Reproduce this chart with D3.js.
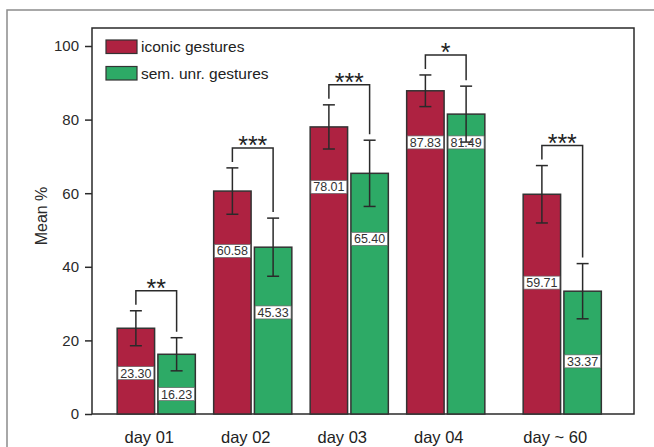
<!DOCTYPE html>
<html>
<head>
<meta charset="utf-8">
<script src="https://cdn.jsdelivr.net/npm/d3@7"></script>
<style>
    body { margin: 0; background: #fff; }
    svg { display: block; font-family: "Liberation Sans", Arial, sans-serif; }
</style>
</head>
<body>
<div id="chart"></div>
<script>
var days = ["day 01", "day 02", "day 03", "day 04", "day ~ 60"];
var seriesKeys = ["iconic", "sem"];
var seriesNames = ["iconic gestures", "sem. unr. gestures"];
var iconicMeans = [23.30, 60.58, 78.01, 87.83, 59.71];
var semMeans = [16.23, 45.33, 65.40, 81.49, 33.37];
var iconicErr = [4.75, 6.3, 6.0, 4.3, 7.8];
var semErr = [4.5, 7.9, 9.0, 7.6, 7.5];
var sigMarks = ["**", "***", "***", "*", "***"];
var yTicks = [0, 20, 40, 60, 80, 100];

// where the value boxes sit on each bar (in % units)
var iconicLabelAt = [11.1, 44.3, 61.7, 73.8, 35.7];
var semLabelAt = [5.4, 27.6, 47.6, 73.8, 14.3];

var colors = { iconic: "#ae2241", sem: "#2daa66" };

var rows = days.map(function (d, i) {
    return {
        day: d,
        sig: sigMarks[i],
        values: [
            { key: "iconic", mean: iconicMeans[i], err: iconicErr[i], labelAt: iconicLabelAt[i] },
            { key: "sem", mean: semMeans[i], err: semErr[i], labelAt: semLabelAt[i] }
        ]
    };
});

var width = 654, height = 447;
var plot = { left: 92, top: 28, right: 634, bottom: 414 };

var svg = d3.select("#chart").append("svg")
    .attr("width", width)
    .attr("height", height);

// outer frame
svg.append("rect")
    .attr("x", 7).attr("y", 10)
    .attr("width", 680).attr("height", 480)
    .attr("fill", "none")
    .attr("stroke", "#8c8c8c")
    .attr("stroke-width", 1.5);

var y = d3.scaleLinear()
    .domain([0, 100])
    .range([plot.bottom, 46]);

var x0 = d3.scaleBand()
    .domain(days)
    .range([108, 590.5])
    .paddingInner(0.19)
    .paddingOuter(0.095);

var lateGap = 20;
function groupX(d) {
    return x0(d) + (d === days[days.length - 1] ? lateGap : 0);
}

var x1 = d3.scaleBand()
    .domain(seriesKeys)
    .range([0, x0.bandwidth()])
    .paddingInner(0.081);

// plot box
svg.append("rect")
    .attr("x", plot.left).attr("y", plot.top)
    .attr("width", plot.right - plot.left)
    .attr("height", plot.bottom - plot.top)
    .attr("fill", "#fff")
    .attr("stroke", "#2a2a2a")
    .attr("stroke-width", 1.5);

var yAxis = d3.axisLeft(y)
    .tickValues(yTicks)
    .tickSize(7)
    .tickSizeOuter(0)
    .tickPadding(6);

var yG = svg.append("g")
    .attr("transform", "translate(" + plot.left + ",0)")
    .call(yAxis);
yG.select(".domain").remove();
yG.selectAll(".tick line").attr("stroke", "#2a2a2a").attr("stroke-width", 1.5);
yG.selectAll(".tick text")
    .attr("fill", "#2a2a2a")
    .style("font-size", "15px")
    .style("font-family", "'Liberation Sans', Arial, sans-serif");

svg.append("text")
    .attr("transform", "translate(41,216) rotate(-90)")
    .attr("text-anchor", "middle")
    .attr("dy", "0.35em")
    .attr("fill", "#2a2a2a")
    .style("font-size", "16px")
    .text("Mean %");

// x labels
svg.selectAll(".xlabel")
    .data(days)
    .enter().append("text")
    .attr("class", "xlabel")
    .attr("x", function (d) { return groupX(d) + x0.bandwidth() / 2 - 7; })
    .attr("y", 443)
    .attr("text-anchor", "middle")
    .attr("fill", "#222")
    .style("font-size", "16.5px")
    .text(function (d) { return d; });

var group = svg.selectAll(".group")
    .data(rows)
    .enter().append("g")
    .attr("class", "group")
    .attr("transform", function (d) { return "translate(" + groupX(d.day) + ",0)"; });

var bw = x1.bandwidth();

group.selectAll(".bar")
    .data(function (d) { return d.values; })
    .enter().append("rect")
    .attr("class", "bar")
    .attr("x", function (d) { return x1(d.key); })
    .attr("y", function (d) { return y(d.mean); })
    .attr("width", bw)
    .attr("height", function (d) { return y(0) - y(d.mean); })
    .attr("fill", function (d) { return colors[d.key]; })
    .attr("stroke", "#333")
    .attr("stroke-width", 1.5);

// value boxes
group.selectAll(".vbox")
    .data(function (d) { return d.values; })
    .enter().append("rect")
    .attr("class", "vbox")
    .attr("x", function (d) { return x1(d.key) + 0.75; })
    .attr("y", function (d) { return y(d.labelAt) - 6.5; })
    .attr("width", bw - 1.5)
    .attr("height", 13)
    .attr("fill", "#fff")
    .attr("stroke", "#666")
    .attr("stroke-width", 0.7);

group.selectAll(".vtext")
    .data(function (d) { return d.values; })
    .enter().append("text")
    .attr("class", "vtext")
    .attr("x", function (d) { return x1(d.key) + bw / 2; })
    .attr("y", function (d) { return y(d.labelAt); })
    .attr("dy", "0.36em")
    .attr("text-anchor", "middle")
    .attr("fill", "#333")
    .style("font-size", "12.5px")
    .text(function (d) { return d.mean.toFixed(2); });

// error bars
var err = group.selectAll(".err")
    .data(function (d) { return d.values; })
    .enter().append("g")
    .attr("class", "err")
    .attr("stroke", "#2a2a2a")
    .attr("stroke-width", 1.5);

err.append("line")
    .attr("x1", function (d) { return x1(d.key) + bw / 2; })
    .attr("x2", function (d) { return x1(d.key) + bw / 2; })
    .attr("y1", function (d) { return y(d.mean + d.err); })
    .attr("y2", function (d) { return y(d.mean - d.err); });

[1, -1].forEach(function (s) {
    err.append("line")
        .attr("x1", function (d) { return x1(d.key) + bw / 2 - 6; })
        .attr("x2", function (d) { return x1(d.key) + bw / 2 + 6; })
        .attr("y1", function (d) { return y(d.mean + s * d.err); })
        .attr("y2", function (d) { return y(d.mean + s * d.err); });
});

// significance brackets
function bracketTop(d) {
    var a = d.values[0], b = d.values[1];
    return Math.min(y(a.mean + a.err), y(b.mean + b.err)) - 20;
}

group.append("path")
    .attr("fill", "none")
    .attr("stroke", "#2a2a2a")
    .attr("stroke-width", 1.5)
    .attr("d", function (d) {
        var a = d.values[0], b = d.values[1];
        var ya = y(a.mean + a.err) - 6, yb = y(b.mean + b.err) - 6;
        var xa = x1(a.key) + bw / 2, xb = x1(b.key) + bw / 2;
        return "M" + xa + "," + ya + "V" + bracketTop(d) + "H" + xb + "V" + yb;
    });

group.append("text")
    .attr("x", x0.bandwidth() / 2)
    .attr("y", function (d) { return bracketTop(d) + 6; })
    .attr("text-anchor", "middle")
    .attr("fill", "#222")
    .style("font-size", "25px")
    .text(function (d) { return d.sig; });

// legend
var legend = svg.selectAll(".legend")
    .data(seriesKeys)
    .enter().append("g")
    .attr("class", "legend")
    .attr("transform", function (d, i) { return "translate(106," + (40 + i * 26.5) + ")"; });

legend.append("rect")
    .attr("width", 31)
    .attr("height", 13.5)
    .attr("fill", function (d) { return colors[d]; })
    .attr("stroke", "#333")
    .attr("stroke-width", 1.2);

legend.append("text")
    .attr("x", 35)
    .attr("y", 7)
    .attr("dy", "0.35em")
    .attr("fill", "#222")
    .style("font-size", "15.5px")
    .text(function (d, i) { return seriesNames[i]; });
</script>
</body>
</html>
